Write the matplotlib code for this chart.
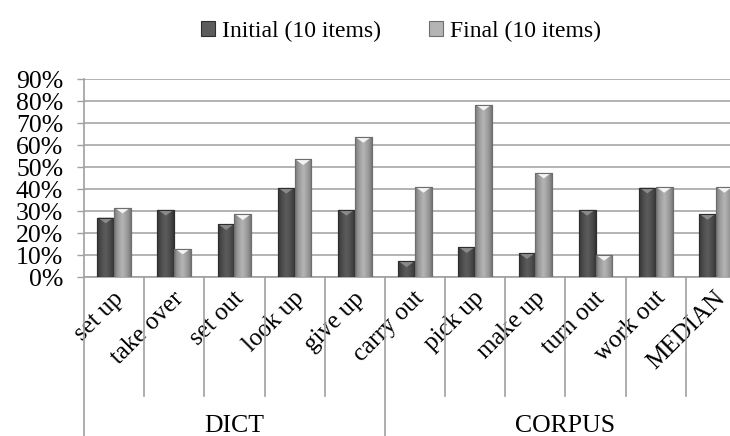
import numpy as np
import matplotlib
matplotlib.use("Agg")
import matplotlib.pyplot as plt
from matplotlib.colors import LinearSegmentedColormap
from matplotlib.patches import Polygon, Rectangle
import matplotlib.transforms as mtransforms

plt.rcParams['font.family'] = ['Liberation Serif', 'DejaVu Serif']

categories = ["set up", "take over", "set out", "look up", "give up",
              "carry out", "pick up", "make up", "turn out", "work out", "MEDIAN"]
groups = ["DICT", "CORPUS"]
group_sizes = [5, 6]
initial = [0.27, 0.305, 0.24, 0.405, 0.305, 0.071, 0.135, 0.108, 0.305, 0.406, 0.286]
final = [0.315, 0.129, 0.285, 0.535, 0.636, 0.409, 0.783, 0.474, 0.10, 0.409, 0.409]
series_names = ["Initial (10 items)", "Final (10 items)"]
yticks = [0, 0.1, 0.2, 0.3, 0.4, 0.5, 0.6, 0.7, 0.8, 0.9]
ytick_labels = ["0%", "10%", "20%", "30%", "40%", "50%", "60%", "70%", "80%", "90%"]

W, H = 730, 436
fig = plt.figure(figsize=(W / 100, H / 100), dpi=100)
ax = fig.add_axes([84 / W, (H - 277) / H, 662 / W, 198 / H])

x = np.arange(len(categories))
bw = 0.28

styles = [
    dict(edge="#2e2e2e", mid="#5c5c5c", top="#8a8a8a"),
    dict(edge="#6e6e6e", mid="#b4b4b4", top="#f4f4f4"),
]

grad = np.concatenate([np.linspace(0, 1, 50), np.linspace(1, 0, 50)])[None, :]
grad = np.abs(grad) ** 0.6

for si, (vals, st) in enumerate(zip([initial, final], styles)):
    cmap = LinearSegmentedColormap.from_list("g%d" % si, [st["edge"], st["mid"]])
    offs = -bw / 2 if si == 0 else bw / 2
    bars = ax.bar(x + offs, vals, width=bw, color=st["mid"], edgecolor=st["edge"],
                  linewidth=0.8, zorder=3)
    for b in bars:
        x0, y0 = b.get_x(), b.get_y()
        w, h = b.get_width(), b.get_height()
        im = ax.imshow(grad, cmap=cmap, aspect="auto", extent=[x0, x0 + w, y0, y0 + h],
                       zorder=3.1, interpolation="bicubic")
        im.set_clip_path(b)
        d = min(0.026, h * 0.5)
        tri = Polygon([[x0 + w * 0.04, h], [x0 + w * 0.96, h], [x0 + w / 2, h - d]],
                      closed=True, facecolor=st["top"], edgecolor="none", zorder=3.2)
        ax.add_patch(tri)
        ax.add_patch(Rectangle((x0, y0), w, h, fill=False, edgecolor=st["edge"],
                               linewidth=0.8, zorder=3.3))

ax.set_xlim(-0.5, len(categories) - 0.5)
ax.set_ylim(0, 0.9)
ax.set_yticks(yticks)
ax.set_yticklabels(ytick_labels, fontsize=18.5)
ax.tick_params(axis="y", length=5, width=1, color="#a0a0a0", pad=10)
ax.yaxis.grid(True, color="#a6a6a6", linewidth=1.2, zorder=0)
ax.set_axisbelow(True)
for s in ["top", "right"]:
    ax.spines[s].set_visible(False)
for s in ["left", "bottom"]:
    ax.spines[s].set_color("#a0a0a0")
    ax.spines[s].set_linewidth(1.2)

ax.set_xticks(x)
ax.set_xticklabels(categories, fontsize=18, rotation=45, ha="right",
                   va="center", rotation_mode="anchor")
ax.tick_params(axis="x", length=0, pad=13)
for lab in ax.get_xticklabels():
    lab.set_transform(lab.get_transform() + mtransforms.ScaledTranslation(6 / 100, 0, fig.dpi_scale_trans))

trans = mtransforms.blended_transform_factory(ax.transData, ax.transAxes)
bounds = [0]
for g in group_sizes:
    bounds.append(bounds[-1] + g)
long_b = set(bounds)
for i in range(len(categories) + 1):
    yb = -0.85 if i in long_b else -0.60
    ax.plot([i - 0.5, i - 0.5], [0, yb], transform=trans, color="#a0a0a0",
            linewidth=1.2, clip_on=False, zorder=1)
for gi, g in enumerate(groups):
    c = (bounds[gi] + bounds[gi + 1] - 1) / 2
    ax.text(c, -0.75, g, transform=trans, ha="center", va="center", fontsize=18.5)

handles = [Rectangle((0, 0), 1, 1, facecolor=st["mid"], edgecolor=st["edge"], linewidth=0.8)
           for st in styles]
fig.legend(handles, series_names, loc="center", bbox_to_anchor=(401 / W, 1 - 31 / H),
           ncol=2, frameon=False, fontsize=17, handlelength=0.6, handleheight=0.6,
           handletextpad=0.3, columnspacing=2.0)

fig.savefig("out.png", dpi=100)
